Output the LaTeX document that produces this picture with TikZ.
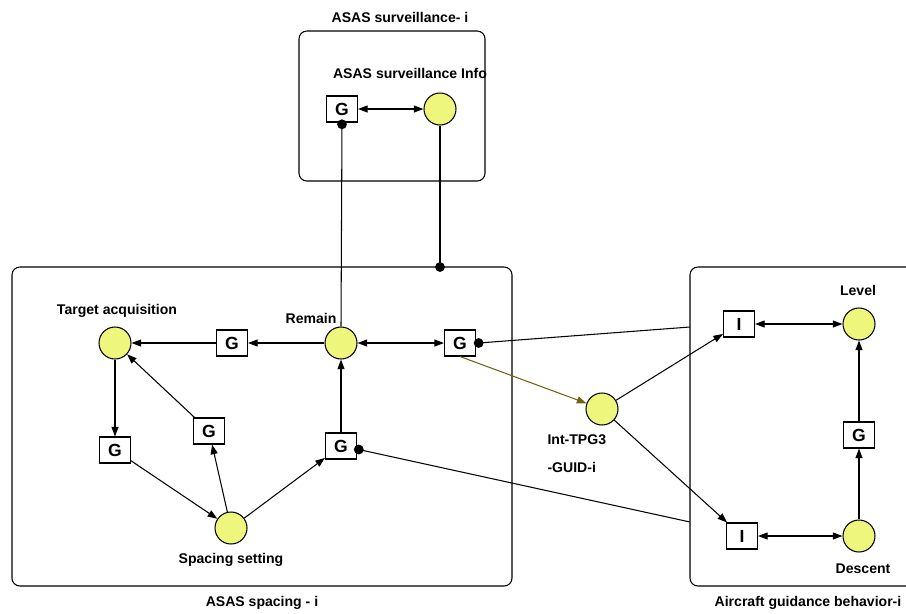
\documentclass[tikz,border=0pt]{standalone}
\usepackage{fontspec}
\setmainfont{Liberation Sans}
\usetikzlibrary{arrows.meta}
\definecolor{placefill}{RGB}{238,247,124}
\definecolor{olivelink}{RGB}{110,100,20}

\begin{document}
\begin{tikzpicture}[x=0.02cm,y=-0.02cm,line width=0.6pt,
    place/.style={circle,draw,fill=placefill,minimum size=0.64cm,inner sep=0pt},
    gbox/.style={draw,fill=white,minimum width=0.62cm,minimum height=0.52cm,inner sep=0pt,font=\bfseries\fontsize{10}{12}\selectfont},
    lbl/.style={font=\bfseries\fontsize{8}{10}\selectfont,inner sep=0pt},
    group/.style={draw,rounded corners=4.5pt},
    >={Triangle[length=5.5pt,width=4pt]}]
    \useasboundingbox (0,0) rectangle (906,613);
    % groups
    \draw[group] (299,31) rectangle (485,181);
    \draw[group] (12,267) rectangle (512,586);
    \draw[group] (690,267) rectangle (930,586);
    \node[lbl] (tSurv) at (400,17) {ASAS surveillance- i};
    \node[lbl] (tSpac) at (262,603) {ASAS spacing - i};
    \node[lbl] (tGuid) at (808,603) {Aircraft guidance behavior-i};

    % places
    \node[place] (survInfo) at (440,109) {}; \node[lbl] at (410,73) {ASAS surveillance Info};
    \node[place] (target) at (115,343) {};   \node[lbl] at (117,311) {Target acquisition};
    \node[place] (remain) at (341,343) {};   \node[lbl] at (311,318) {Remain};
    \node[place] (spacing) at (231,528) {};  \node[lbl] at (231,560) {Spacing setting};
    \node[place] (int) at (602,409) {};
    \node[lbl,anchor=west] at (547,440) {Int-TPG3};
    \node[lbl,anchor=west] at (547,467) {-GUID-i};
    \node[place] (level) at (859,324) {};    \node[lbl] at (858,290) {Level};
    \node[place] (descent) at (859,536) {};  \node[lbl] at (863,569) {Descent};

    % transitions
    \node[gbox] (gSurv) at (342,109) {G};
    \node[gbox] (gTA) at (232,343) {G};
    \node[gbox] (gRem) at (460,343) {G};
    \node[gbox] (gLeft) at (115,450) {G};
    \node[gbox] (gMid) at (209,431) {G};
    \node[gbox] (gRight) at (341,446) {G};
    \node[gbox] (gGuid) at (859,435) {G};
    \node[gbox] (iTop) at (739,324) {I};
    \node[gbox] (iBot) at (742,536) {I};

    \coordinate (spTop) at (440,267);
    \coordinate (guidIn1) at (690,327);
    \coordinate (guidIn2) at (690,522);

    % arcs
    \draw[<->] (gSurv) -- (survInfo);
    \draw (gSurv.south) -- (remain.north);
    \draw (survInfo.south) -- (spTop);
    \draw[->] (remain) -- (gTA); \draw[->] (gTA) -- (target);
    \draw[<->] (remain) -- (gRem);
    \draw[->] (target) -- (gLeft); \draw[->] (gLeft) -- (spacing);
    \draw[->] (spacing) -- (gMid); \draw[->] (gMid) -- (target);
    \draw[->] (spacing) -- (gRight); \draw[->] (gRight) -- (remain);
    \draw[->,olivelink] (gRem.south) -- (int);
    \draw ([xshift=1.5pt]gRem.east) -- (guidIn1);
    \draw ([xshift=1pt,yshift=-2pt]gRight.east) -- (guidIn2);
    \draw[->] (int) -- (iTop); \draw[->] (int) -- (iBot);
    \draw[<->] (iTop) -- (level); \draw[<->] (iBot) -- (descent);
    \draw[->] (descent) -- (gGuid); \draw[->] (gGuid) -- (level);

    % dots
    \fill ([yshift=-1pt]gSurv.south) circle (2.8pt);
    \fill (spTop) circle (2.8pt);
    \fill ([xshift=1.5pt]gRem.east) circle (2.8pt);
    \fill ([xshift=1pt,yshift=-2pt]gRight.east) circle (2.8pt);
\end{tikzpicture}
\end{document}
